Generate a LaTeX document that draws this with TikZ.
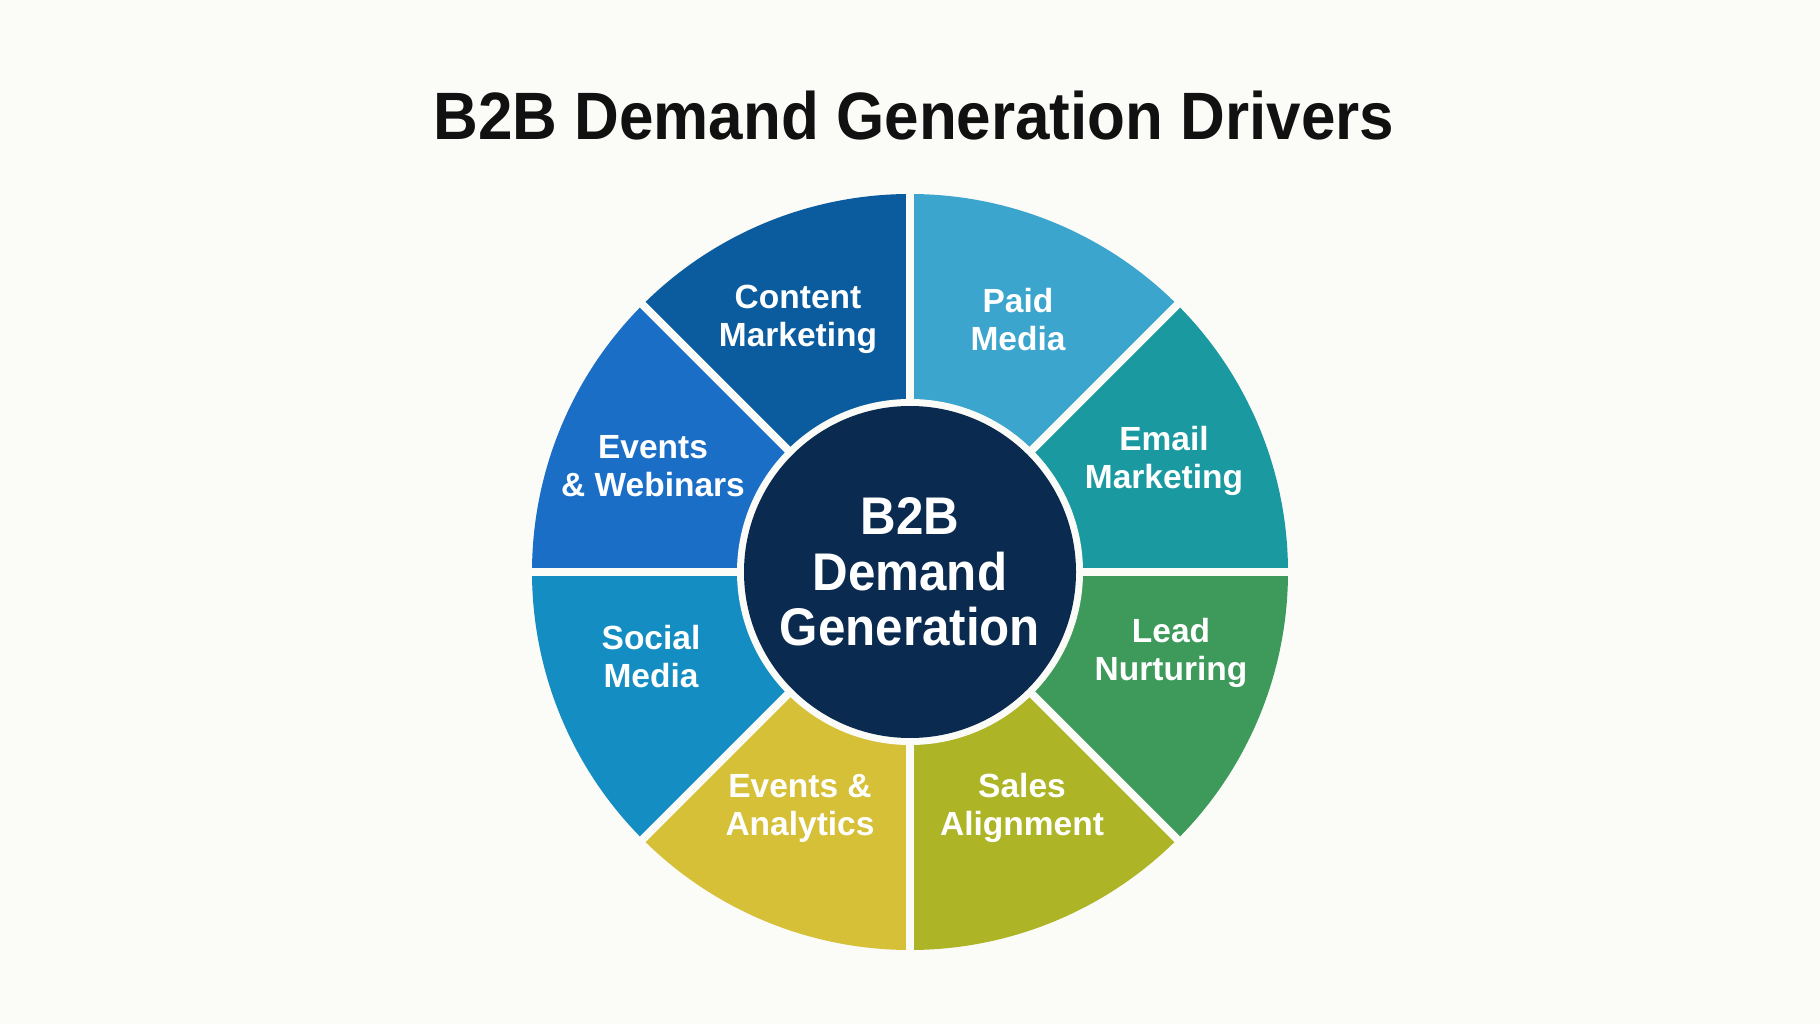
\documentclass[tikz,border=0pt]{standalone}
\usepackage{fontspec}
\setmainfont{Liberation Sans}
\newfontfamily\titlefont[FakeStretch=0.925]{Liberation Sans}
\newfontfamily\centerfont[FakeStretch=0.93]{Liberation Sans}
\definecolor{bg}{HTML}{FBFBF8}
\definecolor{cContent}{HTML}{0A5C9E}
\definecolor{cPaid}{HTML}{3BA5CE}
\definecolor{cEmail}{HTML}{1A9AA0}
\definecolor{cLead}{HTML}{3E9A5A}
\definecolor{cSales}{HTML}{ADB527}
\definecolor{cAnalytics}{HTML}{D6C038}
\definecolor{cSocial}{HTML}{138DC2}
\definecolor{cWebinars}{HTML}{1B6EC6}
\definecolor{cNavy}{HTML}{0A2A4F}
\definecolor{cTitle}{HTML}{111111}
\begin{document}
\begin{tikzpicture}[x=0.5pt,y=0.5pt,
  seglabel/.style={text=white, align=center, inner sep=0pt,
    font=\fontsize{16.75pt}{19pt}\selectfont\bfseries},
  gapline/.style={draw=bg, line width=4pt},
]
\fill[bg] (0,0) rectangle (1820,1024);
\useasboundingbox (0,0) rectangle (1820,1024);
\coordinate (c) at (910,452);
\def\R{378}
% sectors
\foreach \a/\b/\col in {90/135/cContent, 45/90/cPaid, 0/45/cEmail, -45/0/cLead,
  -90/-45/cSales, -135/-90/cAnalytics, 180/225/cSocial, 135/180/cWebinars}{
  \fill[\col] (c) -- ++(\a:\R) arc[start angle=\a, end angle=\b, radius=\R] -- cycle;
}
% gaps
\foreach \a in {0,45,...,315}{
  \draw[gapline] (c) -- ++(\a:\R+6);
}
% centre
\fill[bg] (c) circle[radius=173];
\node[circle, fill=cNavy, minimum size=166pt, inner sep=0pt, text=white, align=center,
  font=\centerfont\fontsize{26.5pt}{27.75pt}\selectfont\bfseries] (ctr) at (c) {B2B\\Demand\\Generation};
% title
\node[text=cTitle, font=\titlefont\fontsize{33.5pt}{38pt}\selectfont\bfseries] (title) at (914,908) {B2B Demand Generation Drivers};
% labels
\node[seglabel] (content) at (798,705) {Content\\Marketing};
\node[seglabel] (paid) at (1018,704) {Paid\\Media};
\node[seglabel] (email) at (1164,563) {Email\\Marketing};
\node[seglabel] (lead) at (1171,371) {Lead\\Nurturing};
\node[seglabel] (sales) at (1022,216) {Sales\\Alignment};
\node[seglabel] (analytics) at (800,216) {Events \&\\Analytics};
\node[seglabel] (social) at (651,367) {Social\\Media};
\node[seglabel] (webinars) at (653,558) {Events\\\& Webinars};
\end{tikzpicture}
\end{document}
